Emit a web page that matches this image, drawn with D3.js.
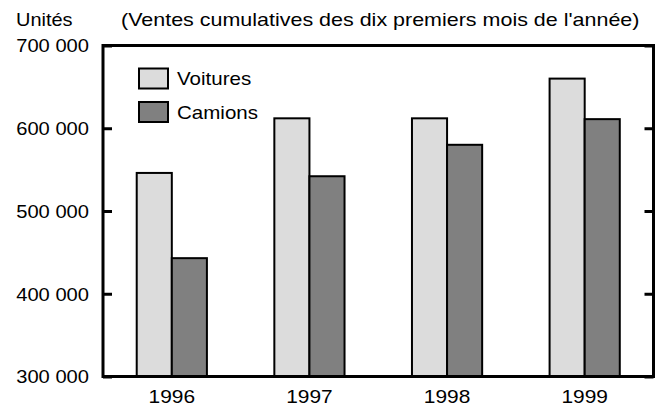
<!DOCTYPE html>
<html>
<head>
<meta charset="utf-8">
<script src="https://cdn.jsdelivr.net/npm/d3@7"></script>
<style>
  body { margin: 0; background: #fff; }
  svg text { font-family: "Liberation Sans", Arial, sans-serif; fill: #000; }
</style>
</head>
<body>
<svg id="chart" width="657" height="408"></svg>
<script>
// data
const years = ["1996", "1997", "1998", "1999"]
const series = ["Voitures", "Camions"]
const voitures = [546000, 612000, 612000, 660000]
const camions = [443000, 542000, 580000, 611000]
const yTicks = [300000, 400000, 500000, 600000, 700000]

const colors = { Voitures: "#dcdcdc", Camions: "#808080" }

const svg = d3.select("#chart")
const margin = { top: 45.5, right: 3.5, bottom: 31.5, left: 103 }
const W = 657, H = 408
const innerW = W - margin.left - margin.right
const innerH = H - margin.top - margin.bottom

// the original lettering is a bit wider than Liberation Sans
function widen(k) {
    return sel => sel.each(function () {
        const len = this.getComputedTextLength()
        d3.select(this).attr("textLength", len * k).attr("lengthAdjust", "spacingAndGlyphs")
    })
}

const g = svg.append("g").attr("transform", `translate(${margin.left},${margin.top})`)

// scales
const x0 = d3.scaleBand().domain(years).range([0, innerW]).paddingInner(0.49).paddingOuter(0.245)
const x1 = d3.scaleBand().domain(series).range([0, x0.bandwidth()])
const y = d3.scaleLinear().domain([300000, 700000]).range([innerH, 0])

const fmt = d => d3.format(",")(d).replace(/,/g, " ")

// bars
const rows = years.map((yr, i) => ({ year: yr, Voitures: voitures[i], Camions: camions[i] }))
const groups = g.selectAll(".grp").data(rows).join("g").attr("class", "grp")
    .attr("transform", d => `translate(${x0(d.year)},0)`)
groups.selectAll("rect").data(d => series.map(s => ({ key: s, value: d[s] }))).join("rect")
    .attr("x", d => x1(d.key))
    .attr("y", d => y(d.value))
    .attr("width", x1.bandwidth())
    .attr("height", d => innerH - y(d.value))
    .attr("fill", d => colors[d.key])
    .attr("stroke", "#000")
    .attr("stroke-width", 2)

// inner ticks left and right
const yAxisL = d3.axisRight(y).tickValues(yTicks).tickSize(9).tickFormat("")
const yAxisR = d3.axisLeft(y).tickValues(yTicks).tickSize(9).tickFormat("")
g.append("g").call(yAxisL).call(a => a.select(".domain").remove())
    .selectAll("line").attr("stroke", "#000").attr("stroke-width", 3)
g.append("g").attr("transform", `translate(${innerW},0)`).call(yAxisR).call(a => a.select(".domain").remove())
    .selectAll("line").attr("stroke", "#000").attr("stroke-width", 3)

// y labels
g.selectAll(".ylab").data(yTicks).join("text").attr("class", "ylab")
    .attr("x", -14)
    .attr("y", d => y(d))
    .attr("dy", "0.36em")
    .attr("text-anchor", "end")
    .style("font-size", "19px")
    .text(fmt)
    .call(widen(1.06))

// x labels
g.selectAll(".xlab").data(years).join("text").attr("class", "xlab")
    .attr("x", d => x0(d) + x0.bandwidth() / 2)
    .attr("y", innerH + 26.5)
    .attr("text-anchor", "middle")
    .style("font-size", "19px")
    .text(d => d)
    .call(widen(1.1))

// frame
g.append("rect")
    .attr("width", innerW).attr("height", innerH)
    .attr("fill", "none").attr("stroke", "#000").attr("stroke-width", 3)

// titles
svg.append("text").attr("x", 16).attr("y", 26).style("font-size", "19px").text("Unités").call(widen(1.05))
svg.append("text").attr("x", 121).attr("y", 26).style("font-size", "19px")
    .text("(Ventes cumulatives des dix premiers mois de l'année)").call(widen(1.13))

// legend
const legend = svg.append("g").attr("class", "legend")
const lg = legend.selectAll("g").data(series).join("g")
    .attr("transform", (d, i) => `translate(139,${68.5 + i * 33.5})`)
lg.append("rect").attr("width", 29).attr("height", 20)
    .attr("fill", d => colors[d]).attr("stroke", "#000").attr("stroke-width", 2)
lg.append("text").attr("x", 38).attr("y", 10).attr("dy", "0.36em")
    .style("font-size", "19px").text(d => d).call(widen(1.08))
</script>
</body>
</html>
